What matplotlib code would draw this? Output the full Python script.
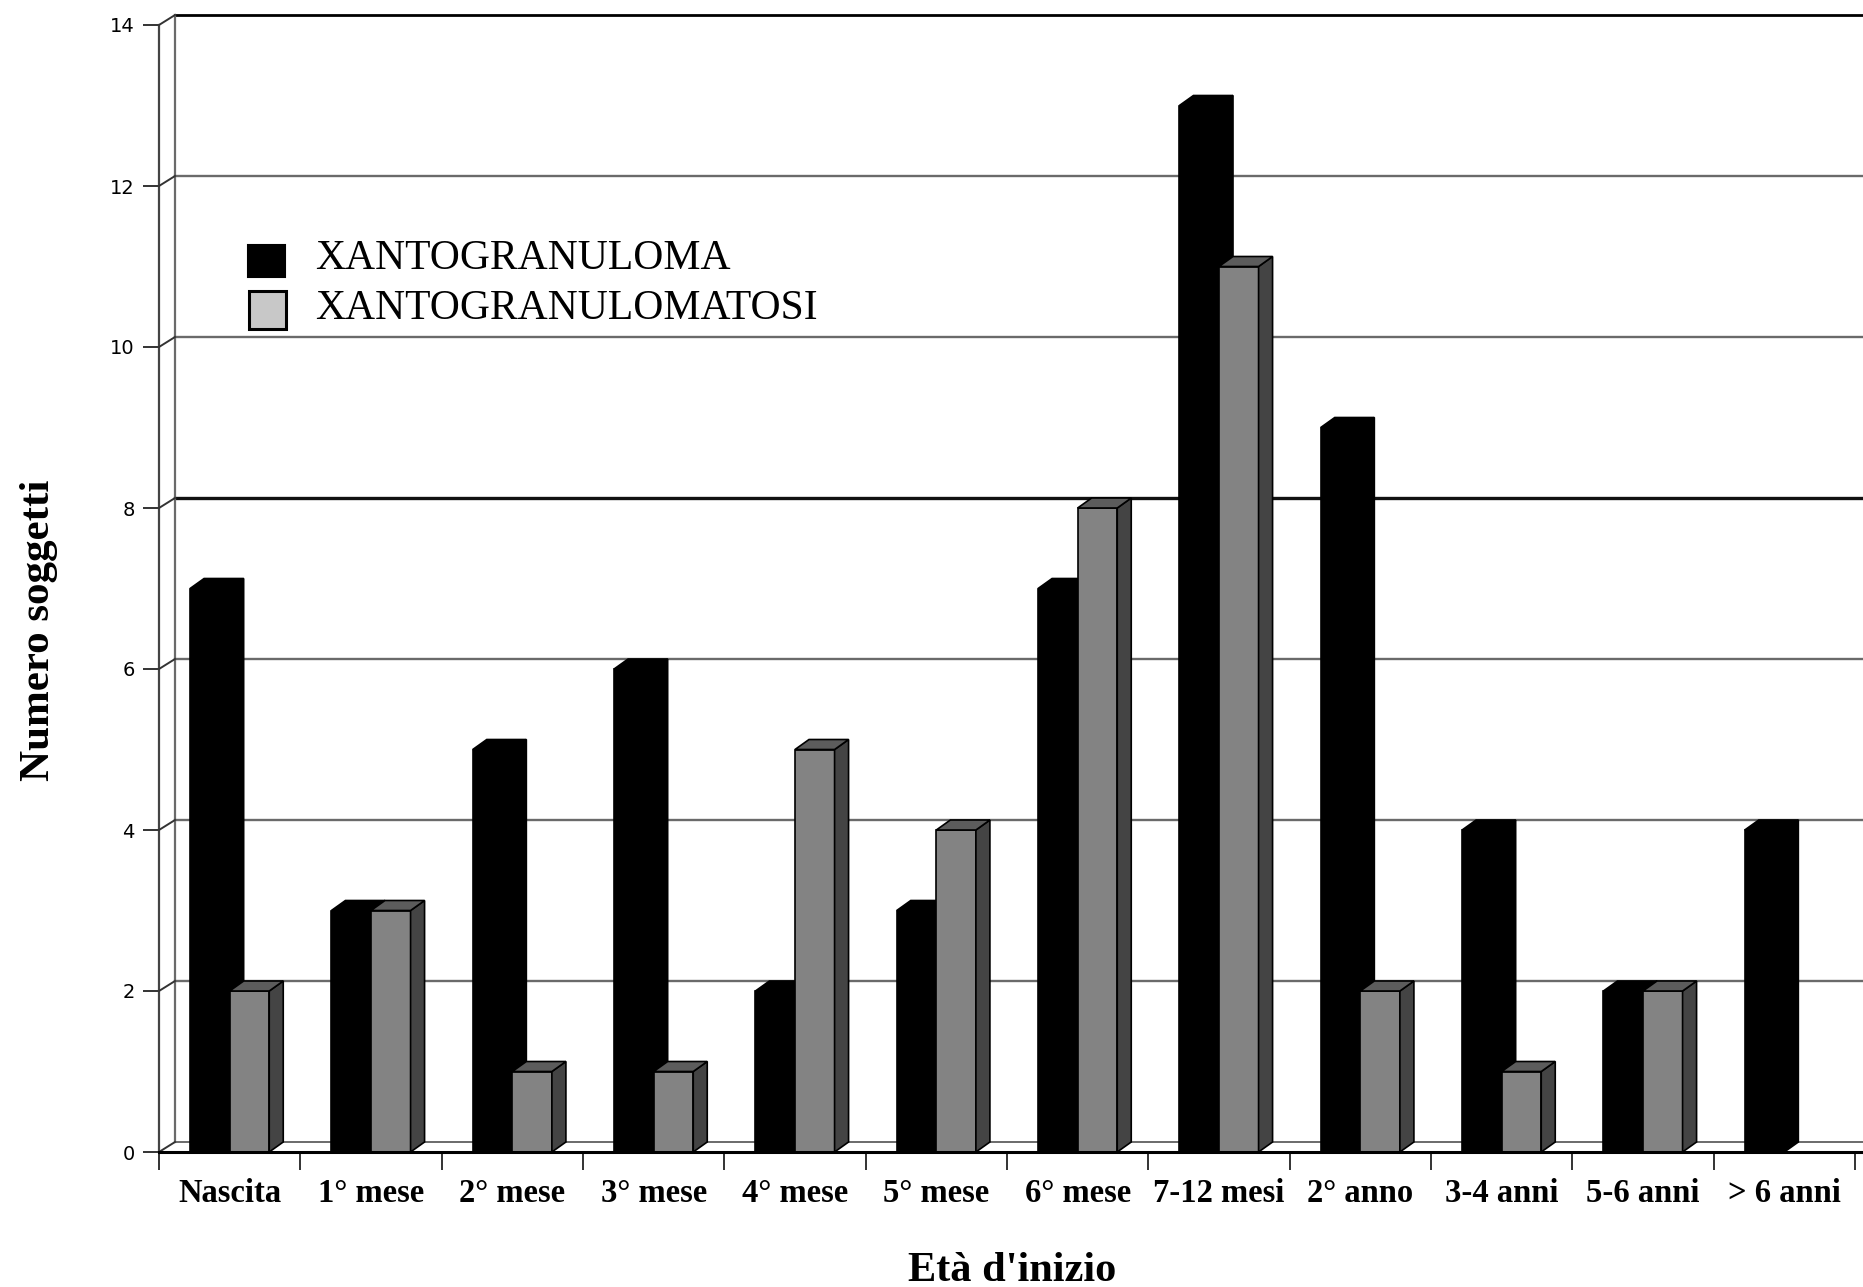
import matplotlib
matplotlib.use("Agg")
import matplotlib.pyplot as plt
from matplotlib.patches import Rectangle
import numpy as np

# ---- data -----------------------------------------------------------------
categories = ["Nascita", "1° mese", "2° mese", "3° mese", "4° mese", "5° mese",
              "6° mese", "7-12 mesi", "2° anno", "3-4 anni", "5-6 anni", "> 6 anni"]
xantogranuloma = [7, 3, 5, 6, 2, 3, 7, 13, 9, 4, 2, 4]
xantogranulomatosi = [2, 3, 1, 1, 5, 4, 8, 11, 2, 1, 2, 0]
series_names = ["XANTOGRANULOMA", "XANTOGRANULOMATOSI"]
y_ticks = [0, 2, 4, 6, 8, 10, 12, 14]

# ---- figure / axes --------------------------------------------------------
W, H, DPI = 1863, 1287, 100
fig = plt.figure(figsize=(W / DPI, H / DPI), dpi=DPI)
fig.patch.set_facecolor("white")
ax = fig.add_axes([159 / W, (H - 1152) / H, 1696 / W, 1127 / H])
n = len(categories)
ax.set_xlim(0, n)
ax.set_ylim(0, 14)
for s in ax.spines.values():
    s.set_visible(False)

# pixel -> data conversion for the pseudo-3D depth
p0 = ax.transData.transform((0, 0))
p1 = ax.transData.transform((1, 1))
px_x, px_y = p1[0] - p0[0], p1[1] - p0[1]
bar_dx, bar_dy = 14 / px_x, 10 / px_y      # depth of each bar
wall_dx, wall_dy = 16 / px_x, 10 / px_y    # offset of the back wall

grid_col = "#6a6a6a"
# back-wall gridlines
for v in y_ticks[1:-1]:
    lw, col = (2.4, "#111111") if v == 8 else (1.7, grid_col)
    ax.plot([wall_dx, n + 0.3], [v + wall_dy] * 2, color=col, lw=lw,
            clip_on=False, zorder=1)
ax.plot([wall_dx, n + 0.3], [14 + wall_dy] * 2, color="black", lw=2.0,
        clip_on=False, zorder=1)
# back floor edge and back wall edge
ax.plot([wall_dx, n + 0.3], [wall_dy] * 2, color=grid_col, lw=1.4,
        clip_on=False, zorder=1)
ax.plot([wall_dx, wall_dx], [wall_dy, 14 + wall_dy], color=grid_col, lw=1.6,
        clip_on=False, zorder=1)
# front vertical axis and the diagonal connectors to the back wall
ax.plot([0, 0], [0, 14], color="#444444", lw=1.6, clip_on=False, zorder=2)
for v in y_ticks:
    ax.plot([0, wall_dx], [v, v + wall_dy], color="#333333", lw=1.4,
            clip_on=False, zorder=2)

# ---- bars -----------------------------------------------------------------
bw = 0.28
x_black = np.arange(n) + 0.36
x_gray = np.arange(n) + 0.64


def bar3d(x, v, front, side, top, edge, z):
    if v <= 0:
        return
    ax.bar([x], [v], width=bw, color=front, edgecolor=edge, linewidth=1.2,
           zorder=z)
    r, l = x + bw / 2, x - bw / 2
    ax.fill([r, r + bar_dx, r + bar_dx, r], [0, bar_dy, v + bar_dy, v],
            facecolor=side, edgecolor=edge, linewidth=1.2, zorder=z,
            clip_on=False)
    ax.fill([l, l + bar_dx, r + bar_dx, r], [v, v + bar_dy, v + bar_dy, v],
            facecolor=top, edgecolor=edge, linewidth=1.2, zorder=z,
            clip_on=False)


for i in range(n):
    bar3d(x_black[i], xantogranuloma[i], "black", "black", "black", "black",
          3 + 2 * i)
    bar3d(x_gray[i], xantogranulomatosi[i], "#838383", "#444444", "#5c5c5c",
          "black", 4 + 2 * i)

# front floor line
ax.plot([0, n + 0.1], [0, 0], color="black", lw=2.2, clip_on=False, zorder=40)

# ---- ticks ----------------------------------------------------------------
ax.set_yticks(y_ticks)
ax.set_yticklabels([str(t) for t in y_ticks], family="DejaVu Sans", fontsize=14)
ax.tick_params(axis="y", length=11.5, width=1.4, pad=6, color="#333333")

ax.set_xticks(np.arange(n + 1))
ax.set_xticklabels([])
ax.tick_params(axis="x", which="major", length=13, width=1.4, color="#333333")
ax.set_xticks(np.arange(n) + 0.5, minor=True)
ax.set_xticklabels(categories, minor=True, family="Liberation Serif",
                   fontweight="bold", fontsize=23.5)
ax.tick_params(axis="x", which="minor", length=0, pad=19)

# ---- axis titles ----------------------------------------------------------
fig.text(39 / W, 1 - 630 / H, "Numero soggetti", rotation=90, ha="center",
         va="center", family="Liberation Serif", fontweight="bold", fontsize=31)
fig.text(1012 / W, 1 - 1271 / H, "Età d'inizio", ha="center", va="center",
         family="Liberation Serif", fontweight="bold", fontsize=30.5)

# ---- legend ---------------------------------------------------------------
fig.patches.append(Rectangle((248 / W, 1 - 277 / H), 37 / W, 32 / H,
                             transform=fig.transFigure, facecolor="black",
                             edgecolor="black", lw=1.5))
fig.patches.append(Rectangle((249 / W, 1 - 329 / H), 37 / W, 38 / H,
                             transform=fig.transFigure, facecolor="#c8c8c8",
                             edgecolor="black", lw=2.2))
fig.text(315 / W, 1 - 259 / H, series_names[0], ha="left", va="center",
         family="Liberation Serif", fontsize=30)
fig.text(315 / W, 1 - 309 / H, series_names[1], ha="left", va="center",
         family="Liberation Serif", fontsize=30)

fig.savefig("out.png", dpi=DPI, facecolor="white")
